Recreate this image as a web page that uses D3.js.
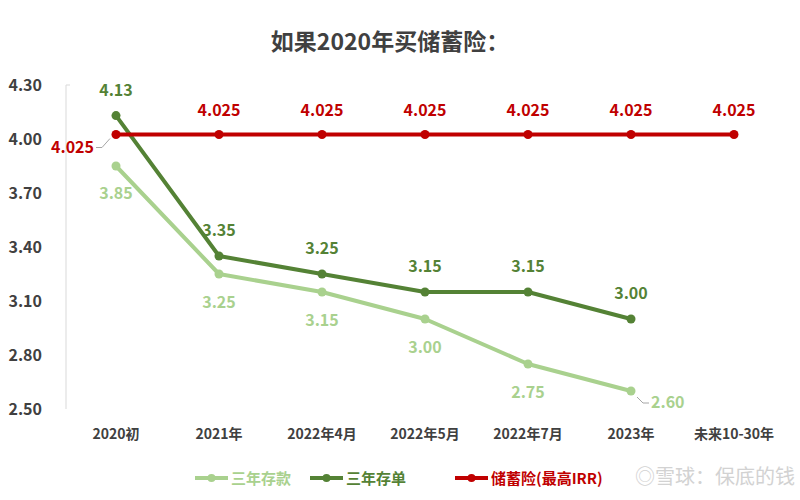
<!DOCTYPE html>
<html><head><meta charset="utf-8">
<script src="https://cdn.jsdelivr.net/npm/d3@7"></script>
<style>body{margin:0;background:#fff;font-family:"Microsoft YaHei","Noto Sans CJK SC",sans-serif;}</style>
</head><body><svg id="c" width="800" height="500"></svg>
<script>
const categories = ["2020初","2021年","2022年4月","2022年5月","2022年7月","2023年","未来10-30年"];
const deposit = [3.85,3.25,3.15,3.00,2.75,2.60];
const certificate = [4.13,3.35,3.25,3.15,3.15,3.00];
const insurance = [4.025,4.025,4.025,4.025,4.025,4.025,4.025];
const yTicks = [2.50,2.80,3.10,3.40,3.70,4.00,4.30];

const svg = d3.select("#c");
const font = '"Noto Sans CJK SC",sans-serif';
const x = d3.scaleBand().domain(categories).range([64.5,785.5]);
const y = d3.scaleLinear().domain([2.5,4.3]).range([409,85]);
const cx = d => x(d) + x.bandwidth()/2;

svg.append("text").attr("x",390).attr("y",50).attr("text-anchor","middle")
  .style("font-family",font).style("font-size","23px").style("font-weight","bold").attr("fill","#404040")
  .text("如果2020年买储蓄险：");

// axis
const ya = svg.append("g").attr("transform","translate(66,0)")
  .call(d3.axisLeft(y).tickValues(yTicks).tickFormat(d3.format(".2f")).tickSize(0).tickPadding(24));
ya.select(".domain").attr("stroke","#d9d9d9").attr("d","M4,85H0V409");
ya.selectAll("text").style("font-family",font).style("font-size","16px").style("font-weight","bold").attr("fill","#404040");
const xa = svg.append("g").attr("transform","translate(0,409)").call(d3.axisBottom(x).tickSize(0).tickPadding(20));
xa.select(".domain").remove();
xa.selectAll("text").style("font-family",font).style("font-size","14px").style("font-weight","bold").attr("fill","#404040");

const series = [
  {name:"三年存款", vals:deposit, color:"#a9d18e"},
  {name:"三年存单", vals:certificate, color:"#548235"},
  {name:"储蓄险(最高IRR)", vals:insurance, color:"#c00000"}
];
const line = d3.line().x((d,i)=>cx(categories[i])).y(d=>y(d));
series.forEach(s=>{
  svg.append("path").attr("d",line(s.vals)).attr("fill","none").attr("stroke",s.color).attr("stroke-width",4).attr("stroke-linejoin","round");
  svg.selectAll(null).data(s.vals).enter().append("circle")
    .attr("cx",(d,i)=>cx(categories[i])).attr("cy",d=>y(d)).attr("r",4.5).attr("fill",s.color);
});

const lbl = (txt,px,py,color,anchor="middle") => svg.append("text").attr("x",px).attr("y",py).attr("text-anchor",anchor)
  .style("font-family",font).style("font-size","16px").style("font-weight","bold").attr("fill",color).text(txt);

deposit.forEach((v,i)=>{
  if(i===5){
    const px=cx(categories[i]), py=y(v);
    svg.append("path").attr("d",`M${px+6},${py+6}L${px+12},${py+12}H${px+18}`).attr("fill","none").attr("stroke","#a6a6a6");
    lbl(v.toFixed(2),px+20,py+17,"#a9d18e","start");
  } else lbl(v.toFixed(2),cx(categories[i]),y(v)+(i===0?33:34),"#a9d18e");
});
certificate.forEach((v,i)=>lbl(v.toFixed(2),cx(categories[i]),y(v)-20,"#548235"));
insurance.forEach((v,i)=>{
  if(i===0){
    const px=cx(categories[i]), py=y(v);
    svg.append("path").attr("d",`M${px-6},${py+4}L${px-14},${py+13}H${px-20}`).attr("fill","none").attr("stroke","#a6a6a6");
    lbl("4.025",px-22,py+18,"#c00000","end");
  } else lbl("4.025",cx(categories[i]),y(v)-19,"#c00000");
});

// legend
const lx=[195,310,455];
series.forEach((s,i)=>{
  const g=svg.append("g").attr("transform",`translate(${lx[i]},478)`);
  g.append("line").attr("x1",0).attr("x2",33).attr("stroke",s.color).attr("stroke-width",4);
  g.append("circle").attr("cx",16.5).attr("r",4).attr("fill",s.color);
  g.append("text").attr("x",36).attr("y",6).style("font-family",font).style("font-size","15px").style("font-weight","bold").attr("fill",s.color).text(s.name);
});
svg.append("text").attr("x",795).attr("y",484).attr("text-anchor","end").style("font-family",font).style("font-size","20px")
  .attr("fill","#c8c8c8").attr("opacity",0.8).text("◎雪球：保底的钱");
</script></body></html>
